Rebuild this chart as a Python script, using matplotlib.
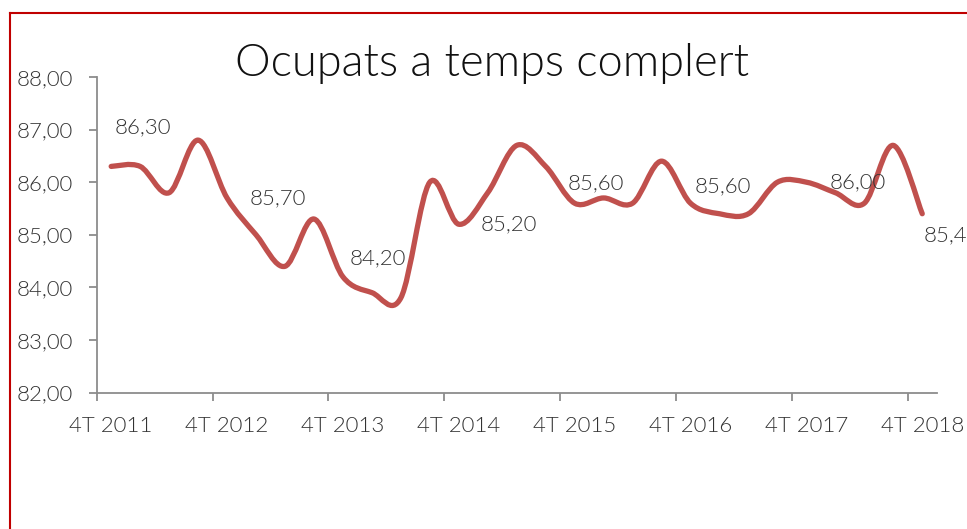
import numpy as np
import matplotlib.pyplot as plt
from matplotlib.path import Path
from matplotlib.patches import PathPatch
from matplotlib.lines import Line2D

# trimestres 4T 2011 .. 4T 2018
quarters = ["4T 2011", "1T 2012", "2T 2012", "3T 2012", "4T 2012",
            "1T 2013", "2T 2013", "3T 2013", "4T 2013",
            "1T 2014", "2T 2014", "3T 2014", "4T 2014",
            "1T 2015", "2T 2015", "3T 2015", "4T 2015",
            "1T 2016", "2T 2016", "3T 2016", "4T 2016",
            "1T 2017", "2T 2017", "3T 2017", "4T 2017",
            "1T 2018", "2T 2018", "3T 2018", "4T 2018"]
ocupats = [86.3, 86.3, 85.8, 86.8, 85.7, 85.0, 84.4, 85.3, 84.2,
           83.9, 83.8, 86.0, 85.2, 85.8, 86.7, 86.3, 85.6,
           85.7, 85.6, 86.4, 85.6, 85.4, 85.4, 86.0, 86.0,
           85.8, 85.6, 86.7, 85.4]
y_ticks = [82, 83, 84, 85, 86, 87, 88]

# etiquetes (col.locades a ma a l'original): desplaçament x, y
label_dx = [0.13, 0.79, 0.23, 0.75, -0.25, 0.13, 0.79, 0.06]
label_dy = [0.75, 0.0, 0.35, 0.0, 0.38, 0.32, 0.0, -0.41]

FONT = ['Lato', 'DejaVu Sans']
W = 300
TXT = '#333333'
LINE = '#C0504D'

fig = plt.figure(figsize=(9.67, 5.29), dpi=100)
ax = fig.add_axes([0.1, 0.258, 0.8687, 0.5964])

# línia suavitzada (estil Excel): bezier cúbica amb punts de control 1/6
x = np.arange(len(ocupats), dtype=float)
y = np.array(ocupats)
pts = np.column_stack([x, y])
ext = np.vstack([pts[0], pts, pts[-1]])
verts = [tuple(pts[0])]
codes = [Path.MOVETO]
for i in range(len(pts) - 1):
    p0, p1, p2, p3 = ext[i], ext[i + 1], ext[i + 2], ext[i + 3]
    c1 = p1 + (p2 - p0) / 6
    c2 = p2 - (p3 - p1) / 6
    verts += [tuple(c1), tuple(c2), tuple(p2)]
    codes += [Path.CURVE4] * 3
ax.add_patch(PathPatch(Path(verts, codes), facecolor='none', edgecolor=LINE,
                       lw=3.8, capstyle='round', joinstyle='round'))

ax.set_xlim(-0.5, len(quarters) - 0.5)
ax.set_ylim(82, 88)

for s in ['top', 'right']:
    ax.spines[s].set_visible(False)
for s in ['left', 'bottom']:
    ax.spines[s].set_color('#8c8c8c')
    ax.spines[s].set_linewidth(1.3)

ax.set_yticks(y_ticks)
ax.set_yticklabels([f"{v:.2f}".replace('.', ',') for v in y_ticks],
                   fontsize=16, color=TXT, family=FONT, fontweight=W)
ax.tick_params(axis='y', length=6, width=1.3, color='#8c8c8c', pad=11)

lab_idx = list(range(0, len(quarters), 4))
ax.set_xticks(np.arange(-0.5, len(quarters) - 1, 4))
ax.set_xticklabels([])
ax.set_xticks(lab_idx, minor=True)
ax.set_xticklabels([quarters[i] for i in lab_idx], minor=True,
                   fontsize=16, color=TXT, family=FONT, fontweight=W)
ax.tick_params(axis='x', which='major', length=6, width=1.3, color='#8c8c8c')
ax.tick_params(axis='x', which='minor', length=0, pad=17)

for k, i in enumerate(lab_idx):
    ax.text(i + label_dx[k], ocupats[i] + label_dy[k],
            f"{ocupats[i]:.2f}".replace('.', ','), ha='left', va='center',
            fontsize=16, color=TXT, family=FONT, fontweight=W,
            clip_on=False)

fig.text(492 / 967, 1 - 63 / 529, "Ocupats a temps complert", ha='center',
         va='center', fontsize=32.5, color='#111111', family=FONT,
         fontweight=W)

# marc vermell
fx, fy = 9.5 / 967, 1 - 12.5 / 529
fig.add_artist(Line2D([fx, fx], [0, fy], color='#C00000', lw=1.5))
fig.add_artist(Line2D([fx, 1], [fy, fy], color='#C00000', lw=1.5))

fig.savefig('out.png', dpi=100)
